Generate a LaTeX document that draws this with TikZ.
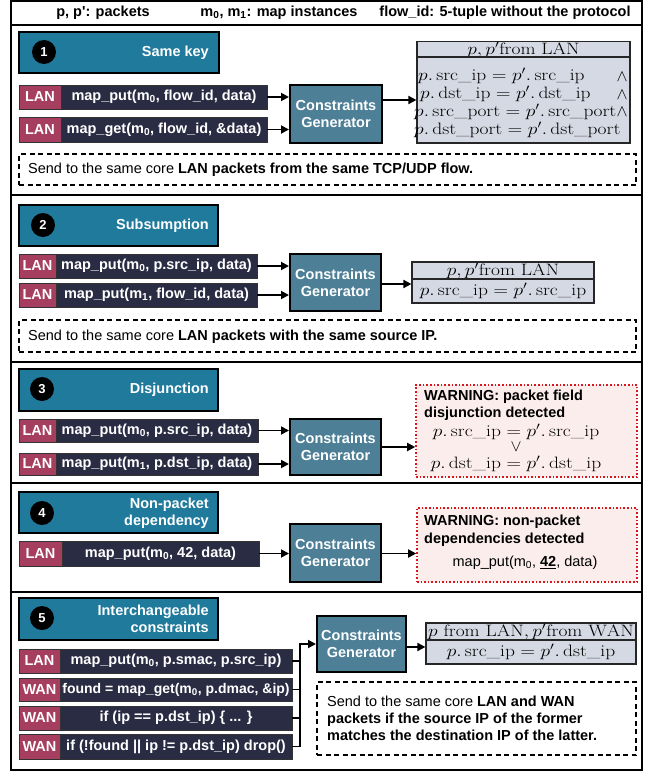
\RequirePackage{fix-cm}
\documentclass[tikz,border=0pt]{standalone}
\usepackage{amsmath}
\usepackage{graphicx}
\usepackage{fontspec}
\newfontfamily\hv{Liberation Sans}
\usetikzlibrary{arrows.meta}
\definecolor{ttl}{HTML}{1F7A9C}
\definecolor{cgc}{HTML}{4D7F96}
\definecolor{navy}{HTML}{2A2C44}
\definecolor{lanc}{HTML}{A63E5F}
\definecolor{resg}{HTML}{D5D9E3}
\definecolor{wpink}{HTML}{FCEDED}
\definecolor{wred}{HTML}{D9161E}
\newcommand\fbold{\hv\bfseries\fontsize{14.5}{17}\selectfont}
\newcommand\freg{\hv\fontsize{14.5}{17}\selectfont}
\newcommand\fmath{\fontsize{16.5}{17.5}\selectfont}
\newcommand\opn[1]{\operatorname{#1}}
\newcommand\mx[1]{\scalebox{1.18}[1]{$#1$}}
\newcommand\rbox[7]{\node[#1, minimum width={#4-#2}, minimum height={#5-#3}] (#6) at ({(#2+#4)/2},{(#3+#5)/2}) {#7};}
\tikzset{
  panel/.style={draw=black, line width=1.6pt},
  ttlbox/.style={draw=black, line width=2.2pt, fill=ttl, inner sep=0pt},
  num/.style={circle, fill=black, minimum size=24pt, inner sep=0pt, text=white, font=\hv\bfseries\fontsize{13}{13}\selectfont},
  ttltxt/.style={text=white, font=\fbold, align=right, anchor=east, inner sep=0pt},
  lab/.style={fill=lanc, draw=black!80, line width=0.6pt, text=white, font=\fbold, inner sep=0pt},
  code/.style={fill=navy, draw=black!80, line width=0.6pt, text=white, font=\fbold, inner sep=0pt},
  cg/.style={fill=cgc, draw=black, line width=2pt, text=white, align=center, font=\fbold, inner sep=0pt},
  resh/.style={fill=resg, draw=black!85, line width=1.2pt, inner sep=0pt, font=\fmath},
  warn/.style={fill=wpink, draw=wred, dotted, line width=1.6pt, inner sep=0pt},
  dbox/.style={draw=black, dash pattern=on 5pt off 3.5pt, line width=1.1pt, inner sep=0pt},
  arr/.style={line width=1.8pt, -{Triangle[length=8pt,width=8pt]}},
  wire/.style={line width=1.8pt},
  txt/.style={font=\freg, inner sep=0pt, anchor=west, align=left},
  btxt/.style={font=\fbold, inner sep=0pt, anchor=west, align=left},
  ml/.style={font=\fmath, inner sep=0pt, anchor=west},
  mc/.style={font=\fmath, inner sep=0pt, align=center},
}
\begin{document}
\begin{tikzpicture}[x=1pt,y=-1pt]
\useasboundingbox (0,0) rectangle (649,771);
% header
\draw[panel] (11,1) rectangle (642,25);
\node[font=\fbold, inner sep=0pt] (hA) at (103,13) {p, p': packets};
\node[font=\fbold, inner sep=0pt] (hB) at (279,13) {m\textsubscript{0}, m\textsubscript{1}: map instances};
\node[font=\fbold, inner sep=0pt] (hC) at (505,13) {flow\_id: 5-tuple without the protocol};

% ---------- panel 1
\draw[panel] (11,25) rectangle (642,195);
\rbox{ttlbox}{19}{32}{219}{73}{t1}{}
\node[num] (n1) at (44,52) {1};
\node[ttltxt] (s1) at (209,53) {Same key};
\rbox{lab}{19}{85}{61}{109}{l1a}{LAN}
\rbox{code}{61}{85}{267}{109}{c1a}{map\_put(m\textsubscript{0}, flow\_id, data)}
\rbox{lab}{19}{117}{61}{142}{l1b}{LAN}
\rbox{code}{61}{117}{267}{142}{c1b}{map\_get(m\textsubscript{0}, flow\_id, \&data)}
\rbox{cg}{290}{85}{382}{143}{g1}{Constraints\\Generator}
\rbox{resh}{417}{42}{630}{57}{h1}{\mx{p,p'\mathrm{from\ LAN}}}
\rbox{resh}{417}{57}{630}{143}{b1}{}
\node[ml] (e1a) at (418,76) {\mx{p.\opn{src\_ip} = p'.\opn{src\_ip}}};
\node[ml] (e1b) at (420,94) {\mx{p.\opn{dst\_ip} = p'.\opn{dst\_ip}}};
\node[ml] (e1c) at (414,112) {\mx{p.\opn{src\_port} = p'.\opn{src\_port}}};
\node[ml] (e1d) at (414,130) {\mx{p.\opn{dst\_port} = p'.\opn{dst\_port}}};
\node[mc] (a1a) at (622,77) {$\wedge$};
\node[mc] (a1b) at (622,95) {$\wedge$};
\node[mc] (a1c) at (622,112) {$\wedge$};
\rbox{dbox}{19}{154}{636}{185}{d1}{}
\node[txt] (x1) at (28,170) {Send to the same core \textbf{LAN packets from the same TCP/UDP flow.}};
\coordinate (y1) at (0,100);
\draw[arr] (c1a.east) -- (c1a.east -| g1.west);
\draw[arr] (c1b.east) -- (c1b.east -| g1.west);
\draw[arr] (g1.east |- y1) -- (b1.west |- y1);

% ---------- panel 2
\draw[panel] (11,195) rectangle (642,362);
\rbox{ttlbox}{19}{205}{218}{246}{t2}{}
\node[num] (n2) at (43,225) {2};
\node[ttltxt] (s2) at (209,226) {Subsumption};
\rbox{lab}{19}{254}{56}{278}{l2a}{LAN}
\rbox{code}{56}{254}{257}{278}{c2a}{map\_put(m\textsubscript{0}, p.src\_ip, data)}
\rbox{lab}{19}{283}{56}{307}{l2b}{LAN}
\rbox{code}{56}{283}{257}{307}{c2b}{map\_put(m\textsubscript{1}, flow\_id, data)}
\rbox{cg}{290}{254}{381}{311}{g2}{Constraints\\Generator}
\rbox{resh}{412}{262}{594}{279}{h2}{\mx{p,p'\mathrm{from\ LAN}}}
\rbox{resh}{412}{279}{594}{303}{b2}{\mx{p.\opn{src\_ip} = p'.\opn{src\_ip}}}
\rbox{dbox}{19}{320}{636}{352}{d2}{}
\node[txt] (x2) at (28,337) {Send to the same core \textbf{LAN packets with the same source IP.}};
\coordinate (y2) at (0,284);
\draw[arr] (c2a.east) -- (c2a.east -| g2.west);
\draw[arr] (c2b.east) -- (c2b.east -| g2.west);
\draw[arr] (g2.east |- y2) -- (b2.west |- y2);

% ---------- panel 3
\draw[panel] (11,362) rectangle (642,483);
\rbox{ttlbox}{19}{369}{218}{411}{t3}{}
\node[num] (n3) at (42,389) {3};
\node[ttltxt] (s3) at (209,390) {Disjunction};
\rbox{lab}{19}{419}{56}{442}{l3a}{LAN}
\rbox{code}{56}{419}{258}{442}{c3a}{map\_put(m\textsubscript{0}, p.src\_ip, data)}
\rbox{lab}{19}{453}{56}{475}{l3b}{LAN}
\rbox{code}{56}{453}{258}{475}{c3b}{map\_put(m\textsubscript{1}, p.dst\_ip, data)}
\rbox{cg}{290}{419}{381}{475}{g3}{Constraints\\Generator}
\rbox{warn}{416}{385}{637}{477}{w3}{}
\node[btxt] (w3a) at (424,397) {WARNING: packet field};
\node[btxt] (w3b) at (424,414) {disjunction detected};
\node[mc] (w3c) at (516,432) {\mx{p.\opn{src\_ip} = p'.\opn{src\_ip}}};
\node[mc] (w3d) at (516,447) {$\vee$};
\node[mc] (w3e) at (516,464) {\mx{p.\opn{dst\_ip} = p'.\opn{dst\_ip}}};
\coordinate (y3) at (0,447);
\draw[arr] (c3a.east) -- (c3a.east -| g3.west);
\draw[arr] (c3b.east) -- (c3b.east -| g3.west);
\draw[arr] (g3.east |- y3) -- (w3.west |- y3);

% ---------- panel 4
\draw[panel] (11,483) rectangle (642,592);
\rbox{ttlbox}{19}{492}{218}{533}{t4}{}
\node[num] (n4) at (42,513) {4};
\node[ttltxt] (s4) at (209,513) {Non-packet\\dependency};
\rbox{lab}{19}{541}{62}{566}{l4a}{LAN}
\rbox{code}{62}{541}{259}{566}{c4a}{map\_put(m\textsubscript{0}, 42, data)}
\rbox{cg}{290}{524}{381}{582}{g4}{Constraints\\Generator}
\rbox{warn}{417}{508}{637}{582}{w4}{}
\node[btxt] (w4a) at (424,522) {WARNING: non-packet};
\node[btxt] (w4b) at (424,540) {dependencies detected};
\node[font=\freg, inner sep=0pt] (w4c) at (525,563) {map\_put(m\textsubscript{0}, \underline{\textbf{42}}, data)};
\draw[arr] (c4a.east) -- (c4a.east -| g4.west);
\draw[arr] (g4.east |- c4a.east) -- (w4.west |- c4a.east);

% ---------- panel 5
\draw[panel] (11,592) rectangle (642,770);
\rbox{ttlbox}{19}{598}{218}{640}{t5}{}
\node[num] (n5) at (42,618) {5};
\node[ttltxt] (s5) at (209,619) {Interchangeable\\constraints};
\rbox{lab}{19}{649}{60}{673}{l5a}{LAN}
\rbox{code}{60}{649}{292}{673}{c5a}{map\_put(m\textsubscript{0}, p.smac, p.src\_ip)}
\rbox{lab}{19}{678}{60}{701}{l5b}{WAN}
\rbox{code, font=\hv\bfseries\fontsize{14}{17}\selectfont}{60}{678}{292}{701}{c5b}{found = map\_get(m\textsubscript{0}, p.dmac, \&ip)}
\rbox{lab}{19}{706}{60}{730}{l5c}{WAN}
\rbox{code}{60}{706}{292}{730}{c5c}{if (ip == p.dst\_ip) \{ ... \}}
\rbox{lab}{19}{734}{60}{759}{l5d}{WAN}
\rbox{code}{60}{734}{292}{759}{c5d}{if (!found || ip != p.dst\_ip) drop()}
\rbox{cg}{317}{616}{406}{672}{g5}{Constraints\\Generator}
\rbox{resh}{426}{623}{636}{640}{h5}{\mx{p\ \mathrm{from\ LAN}, p'\mathrm{from\ WAN}}}
\rbox{resh}{426}{640}{636}{664}{b5}{\mx{p.\opn{src\_ip} = p'.\opn{dst\_ip}}}
\rbox{dbox}{317}{682}{636}{755}{d5}{}
\node[txt] (x5) at (327,718) {Send to the same core \textbf{LAN and WAN}\\\textbf{packets if the source IP of the former}\\\textbf{matches the destination IP of the latter.}};
\coordinate (bus) at (300,644);
\coordinate (y5) at (0,647);
\draw[wire] (c5a.east) -- (c5a.east -| bus);
\draw[wire] (c5b.east) -- (c5b.east -| bus);
\draw[wire] (c5c.east) -- (c5c.east -| bus);
\draw[arr, line join=miter] (c5d.east) -- (c5d.east -| bus) -- (bus) -- (bus -| g5.west);
\draw[arr] (g5.east |- y5) -- (b5.west |- y5);
\end{tikzpicture}
\end{document}
